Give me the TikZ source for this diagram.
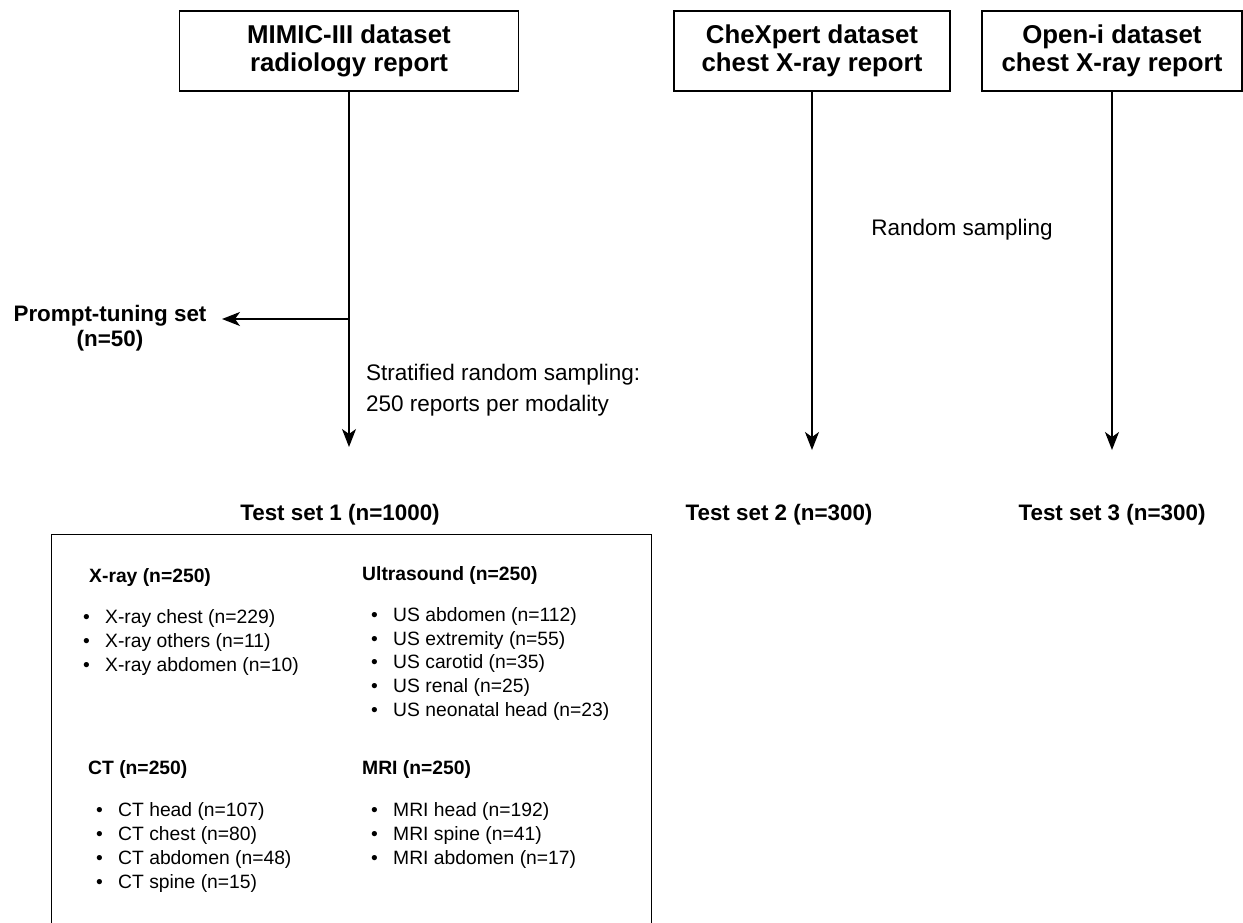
\documentclass[tikz,border=0pt]{standalone}
\usepackage{fontspec}
\setmainfont{Liberation Sans}
\usetikzlibrary{arrows.meta}
\newcommand{\bul}[1]{\makebox[22pt][l]{\textbullet}#1}
\begin{document}
\begin{tikzpicture}[x=1pt,y=-1pt,
  dbox/.style={draw, line width=1.3pt, align=center, inner sep=0pt,
    font=\fontsize{25.8}{28.5}\selectfont\bfseries, minimum height=80pt},
  conn/.style={line width=1.4pt},
  arr/.style={conn, -{Stealth[length=18pt,width=14pt,inset=5pt]}},
  lab/.style={inner sep=0pt, font=\fontsize{22.5}{30.5}\selectfont},
  blab/.style={inner sep=0pt, font=\fontsize{22.4}{25}\selectfont\bfseries},
  head/.style={inner sep=0pt, anchor=west, font=\fontsize{19.3}{22}\selectfont\bfseries},
  itm/.style={inner sep=0pt, anchor=west, font=\fontsize{19.3}{22}\selectfont},
]
\useasboundingbox (0,0) rectangle (1243,922);
\clip (0,0) rectangle (1243,922);

% source boxes
\node[dbox, minimum width=339pt] (mimic) at (349,51) {MIMIC-III dataset\\radiology report};
\node[dbox, minimum width=276pt] (chex) at (812,51) {CheXpert dataset\\chest X-ray report};
\node[dbox, minimum width=260pt] (openi) at (1112,51) {Open-i dataset\\chest X-ray report};

% free ends
\coordinate (msplit) at (349,319);
\coordinate (mend) at (349,447);
\coordinate (pend) at (222,319);
\coordinate (cend) at (812,450);
\coordinate (oend) at (1112,450);

% labels
\node[blab, align=center] (prompt) at (110,328) {Prompt-tuning set\\(n=50)};
\node[lab, anchor=west, align=left] (strat) at (366,390) {Stratified random sampling:\\250 reports per modality};
\node[lab] (rand) at (962,230) {Random sampling};

\node[blab] (t1) at (340,515) {Test set 1 (n=1000)};
\node[blab] (t2) at (779,515) {Test set 2 (n=300)};
\node[blab] (t3) at (1112,515) {Test set 3 (n=300)};

% connectors
\draw[arr] (mimic.south) -- (mend);
\draw[arr] (msplit) -- (pend);
\draw[arr] (chex.south) -- (cend);
\draw[arr] (openi.south) -- (oend);

% test set 1 box
\node[draw, line width=1.3pt, anchor=north west, minimum width=600pt,
  minimum height=420pt, inner sep=0pt] (box1) at (51,534) {};

\node[head] (hx) at (89,577) {X-ray (n=250)};
\node[itm] (x1) at (83,618) {\bul{X-ray chest (n=229)}};
\node[itm] (x2) at (83,642) {\bul{X-ray others (n=11)}};
\node[itm] (x3) at (83,666) {\bul{X-ray abdomen (n=10)}};

\node[head] (hu) at (362,575) {Ultrasound (n=250)};
\node[itm] (u1) at (371,616) {\bul{US abdomen (n=112)}};
\node[itm] (u2) at (371,640) {\bul{US extremity (n=55)}};
\node[itm] (u3) at (371,663) {\bul{US carotid (n=35)}};
\node[itm] (u4) at (371,687) {\bul{US renal (n=25)}};
\node[itm] (u5) at (371,711) {\bul{US neonatal head (n=23)}};

\node[head] (hc) at (88,769) {CT (n=250)};
\node[itm] (c1) at (96,811) {\bul{CT head (n=107)}};
\node[itm] (c2) at (96,835) {\bul{CT chest (n=80)}};
\node[itm] (c3) at (96,859) {\bul{CT abdomen (n=48)}};
\node[itm] (c4) at (96,883) {\bul{CT spine (n=15)}};

\node[head] (hm) at (362,769) {MRI (n=250)};
\node[itm] (r1) at (371,811) {\bul{MRI head (n=192)}};
\node[itm] (r2) at (371,835) {\bul{MRI spine (n=41)}};
\node[itm] (r3) at (371,859) {\bul{MRI abdomen (n=17)}};
\end{tikzpicture}
\end{document}
